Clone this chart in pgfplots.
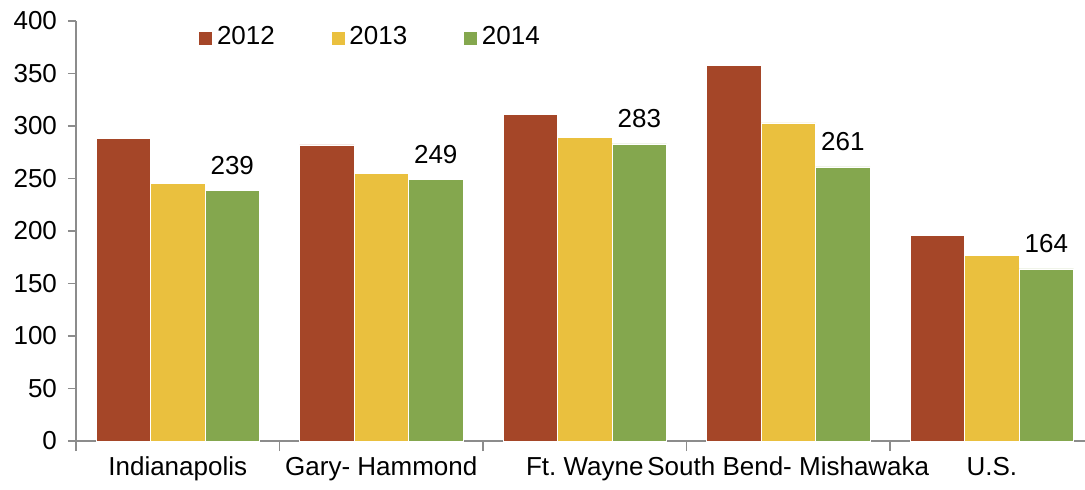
\documentclass[border=0pt]{standalone}
\usepackage{pgfplots}
\pgfplotsset{compat=1.18}
\usepackage{fontspec}
\setmainfont{Liberation Sans}
\frenchspacing
\definecolor{cA}{RGB}{165,70,40}
\definecolor{cB}{RGB}{234,192,62}
\definecolor{cC}{RGB}{132,167,78}
\definecolor{axgray}{RGB}{140,140,140}
\begin{document}
\fontsize{13pt}{15pt}\selectfont
\begin{tikzpicture}
\begin{axis}[
  scale only axis,
  width=504.5pt, height=210pt,
  ybar=0pt, bar width=27.25pt,
  xmin=-0.5, xmax=4.458,
  ymin=0, ymax=400,
  ytick={0,50,...,400},
  xtick={0,1,2,3,4},
  xticklabels={Indianapolis,Gary- Hammond,Ft.\ Wayne,South Bend- Mishawaka,U.S.},
  minor xtick={-0.5,0.5,1.5,2.5,3.5},
  major x tick style={draw=none},
  minor tick length=5pt,
  major tick length=4pt,
  tick align=outside,
  axis x line*=bottom, axis y line*=left,
  axis line style={axgray, line width=0.9pt},
  every tick/.style={axgray, line width=0.9pt},
  tick label style={font=\fontsize{13pt}{15pt}\selectfont, /pgf/number format/assume math mode=true},
  xticklabel style={yshift=1pt, text height=9.5pt, text depth=3pt},
  yticklabel style={xshift=-1pt},
  legend style={draw=none, fill=none, at={(rel axis cs:0.115,0.96)}, anchor=west,
    legend columns=3, font=\fontsize{13pt}{15pt}\selectfont,
    /tikz/every even column/.append style={column sep=26pt}},
  legend image code/.code={\fill[#1] (0pt,-3.5pt) rectangle (7pt,3.5pt);},
  every node near coord/.append style={font=\fontsize{13pt}{15pt}\selectfont, anchor=base, yshift=8pt, /pgf/number format/assume math mode=true, black},
]
\coordinate (bl) at (rel axis cs:0,0);
\addplot[fill=cA, draw=white, line width=0.3pt] coordinates {(0,288) (1,282) (2,311) (3,358) (4,196)};
\addplot[fill=cB, draw=white, line width=0.3pt] coordinates {(0,245) (1,255) (2,289) (3,303) (4,177)};
\addplot[fill=cC, draw=white, line width=0.3pt, nodes near coords] coordinates {(0,239) (1,249) (2,283) (3,261) (4,164)};
\legend{2012,2013,2014}
\end{axis}
\pgfresetboundingbox
\path[use as bounding box] (bl) ++(-38pt,-24pt) rectangle ++(542.5pt,244.5pt);
\end{tikzpicture}
\end{document}
